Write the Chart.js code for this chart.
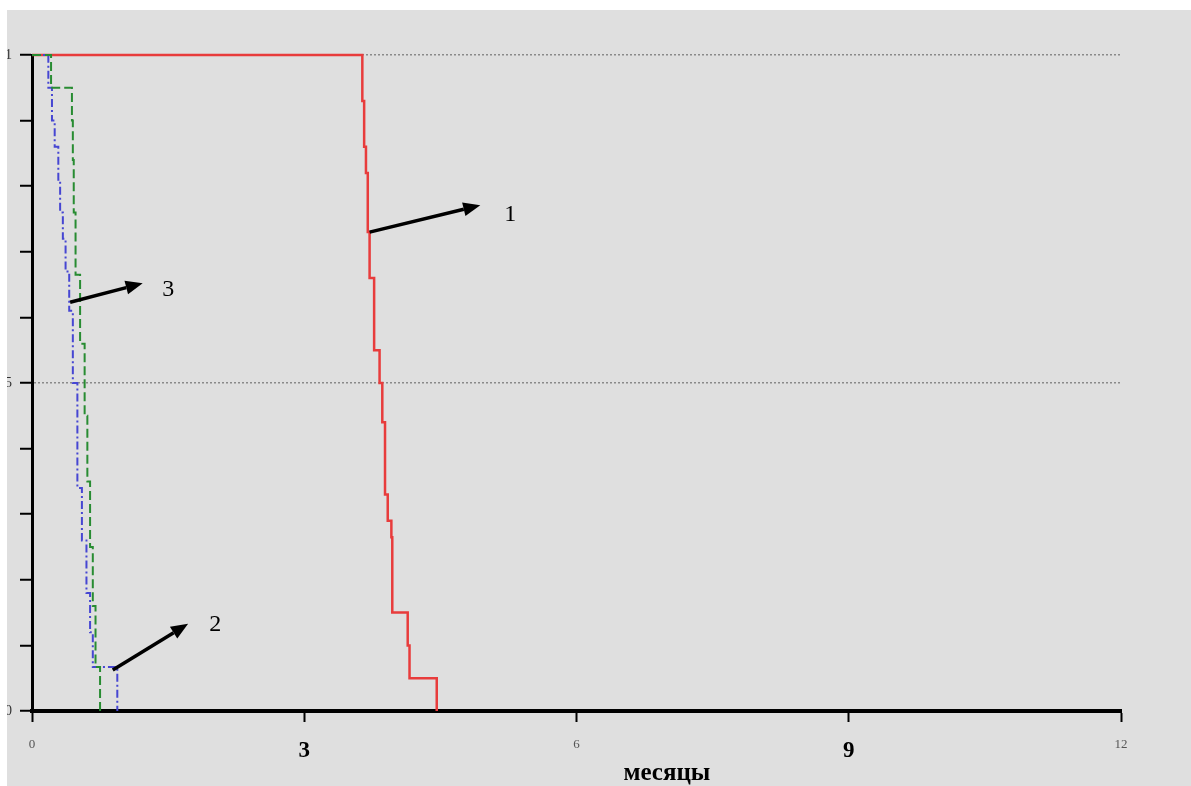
<!DOCTYPE html>
<html>
<head>
<meta charset="utf-8">
<script src="https://cdn.jsdelivr.net/npm/chart.js@4"></script>
<style>
    html, body { margin: 0; padding: 0; background: #ffffff; overflow: hidden; }
    #frame { position: absolute; left: 7px; top: 10px; width: 1184px; height: 776px; overflow: hidden; background: #dfdfdf; }
    #survCanvas { position: absolute; left: -15px; top: 0; }
</style>
</head>
<body>
<div id="frame">
    <canvas id="survCanvas" width="1199" height="776"></canvas>
</div>
<script>
// данные кривых (месяцы / доля)
const curve1Months = [0, 3.64, 3.66, 3.68, 3.70, 3.72, 3.77, 3.83, 3.86, 3.89, 3.92, 3.96, 3.97, 4.14, 4.16, 4.46];
const curve1Surv   = [1, 0.93, 0.86, 0.82, 0.73, 0.66, 0.55, 0.50, 0.44, 0.33, 0.29, 0.265, 0.15, 0.10, 0.05, 0];

const curve2Months = [0, 0.21, 0.44, 0.45, 0.46, 0.48, 0.53, 0.58, 0.61, 0.64, 0.67, 0.70, 0.75];
const curve2Surv   = [1, 0.95, 0.90, 0.84, 0.76, 0.665, 0.56, 0.45, 0.35, 0.25, 0.16, 0.067, 0];

const curve3Months = [0, 0.18, 0.22, 0.25, 0.29, 0.31, 0.34, 0.37, 0.41, 0.45, 0.50, 0.55, 0.60, 0.64, 0.67, 0.94];
const curve3Surv   = [1, 0.95, 0.90, 0.86, 0.81, 0.76, 0.72, 0.67, 0.61, 0.50, 0.34, 0.26, 0.18, 0.12, 0.067, 0];

const xTickMonths = [0, 3, 6, 9, 12];
const yTickValues = [0, 0.1, 0.2, 0.3, 0.4, 0.5, 0.6, 0.7, 0.8, 0.9, 1];
const yTickLabels = ['0', '', '', '', '', '.5', '', '', '', '', '1'];
const yGridValues = [0.5, 1];

const axisTitle = 'месяцы';

// стрелки с номерами кривых: начало, конец, подпись
const arrowLabels = ['1', '3', '2'];
const arrowFromX = [3.72, 0.42, 0.89];
const arrowFromY = [0.73, 0.623, 0.0625];
const arrowToX   = [4.94, 1.22, 1.72];
const arrowToY   = [0.771, 0.652, 0.133];
const labelX     = [5.27, 1.50, 2.02];
const labelY     = [0.756, 0.642, 0.131];

const serif = '"Liberation Serif", "DejaVu Serif", serif';

function toPoints(xs, ys) {
    return xs.map((x, i) => ({ x, y: ys[i] }));
}

// Плагин для стрелок и подписи оси
const annotationsPlugin = {
    id: 'annotations',
    afterDatasetsDraw(chart) {
        const { ctx, scales: { x, y }, chartArea } = chart;
        ctx.save();
        ctx.strokeStyle = '#000';
        ctx.fillStyle = '#000';
        ctx.lineWidth = 3.5;
        arrowLabels.forEach((lbl, i) => {
            const x1 = x.getPixelForValue(arrowFromX[i]);
            const y1 = y.getPixelForValue(arrowFromY[i]);
            const x2 = x.getPixelForValue(arrowToX[i]);
            const y2 = y.getPixelForValue(arrowToY[i]);
            const ang = Math.atan2(y2 - y1, x2 - x1);
            const head = 17;
            const bx = x2 - head * Math.cos(ang);
            const by = y2 - head * Math.sin(ang);
            ctx.beginPath();
            ctx.moveTo(x1, y1);
            ctx.lineTo(bx, by);
            ctx.stroke();
            ctx.beginPath();
            ctx.moveTo(x2, y2);
            ctx.lineTo(bx + 7 * Math.sin(ang), by - 7 * Math.cos(ang));
            ctx.lineTo(bx - 7 * Math.sin(ang), by + 7 * Math.cos(ang));
            ctx.closePath();
            ctx.fill();

            ctx.font = '24px ' + serif;
            ctx.textAlign = 'center';
            ctx.textBaseline = 'middle';
            ctx.fillText(lbl, x.getPixelForValue(labelX[i]), y.getPixelForValue(labelY[i]));
        });

        // подпись оси X (смещена вправо, как в оригинале)
        ctx.font = 'bold 25px ' + serif;
        ctx.textAlign = 'center';
        ctx.textBaseline = 'middle';
        ctx.fillText(axisTitle, chartArea.left + 0.583 * (chartArea.right - chartArea.left), 764);
        ctx.restore();
    }
};

const survCanvas = document.getElementById('survCanvas');

const chartSurv = new Chart(survCanvas, {
    type: 'line',
    data: {
        datasets: [
            {
                label: '2',
                data: toPoints(curve2Months, curve2Surv),
                borderColor: 'rgb(40, 140, 50)',
                borderWidth: 2,
                borderDash: [9, 4],
                stepped: 'before',
                pointRadius: 0,
                clip: false
            },
            {
                label: '3',
                data: toPoints(curve3Months, curve3Surv),
                borderColor: 'rgb(70, 70, 210)',
                borderWidth: 2,
                borderDash: [8, 3, 2, 3],
                stepped: 'before',
                pointRadius: 0,
                clip: false
            },
            {
                label: '1',
                data: toPoints(curve1Months, curve1Surv),
                borderColor: 'rgb(232, 60, 60)',
                borderWidth: 2.5,
                stepped: 'before',
                pointRadius: 0,
                clip: false
            }
        ]
    },
    options: {
        responsive: false,
        animation: false,
        layout: {
            padding: { top: 45, right: 70, bottom: 0, left: 0 }
        },
        plugins: {
            legend: { display: false },
            tooltip: { enabled: false }
        },
        scales: {
            x: {
                type: 'linear',
                min: 0,
                max: 12,
                afterBuildTicks: (scale) => {
                    scale.ticks = xTickMonths.map(v => ({ value: v }));
                },
                afterFit: (scale) => { scale.height = 75; },
                border: { display: true, color: '#000', width: 4 },
                grid: {
                    drawOnChartArea: false,
                    drawTicks: true,
                    tickLength: 11,
                    tickWidth: 2,
                    tickColor: '#000'
                },
                ticks: {
                    padding: 15,
                    maxRotation: 0,
                    autoSkip: false,
                    color: (ctx) => (ctx.tick && ctx.tick.value % 6 === 3) ? '#000' : '#555',
                    font: (ctx) => (ctx.tick && ctx.tick.value % 6 === 3)
                        ? { family: serif, size: 23, weight: 'bold' }
                        : { family: serif, size: 13 }
                }
            },
            y: {
                min: 0,
                max: 1,
                afterBuildTicks: (scale) => {
                    scale.ticks = yTickValues.map(v => ({ value: v }));
                },
                afterFit: (scale) => { scale.width = 40; },
                border: { display: true, color: '#000', width: 3, dash: [2, 2] },
                grid: {
                    drawOnChartArea: true,
                    color: (ctx) => (ctx.tick && yGridValues.includes(ctx.tick.value)) ? '#8a8a8a' : 'rgba(0,0,0,0)',
                    lineWidth: 1.5,
                    tickLength: 12,
                    tickWidth: 2,
                    tickColor: '#000'
                },
                ticks: {
                    padding: 8,
                    autoSkip: false,
                    color: '#333',
                    font: { family: serif, size: 14 },
                    callback: (value) => {
                        const i = yTickValues.indexOf(value);
                        return i >= 0 ? yTickLabels[i] : '';
                    }
                }
            }
        }
    },
    plugins: [annotationsPlugin]
});
</script>
</body>
</html>
